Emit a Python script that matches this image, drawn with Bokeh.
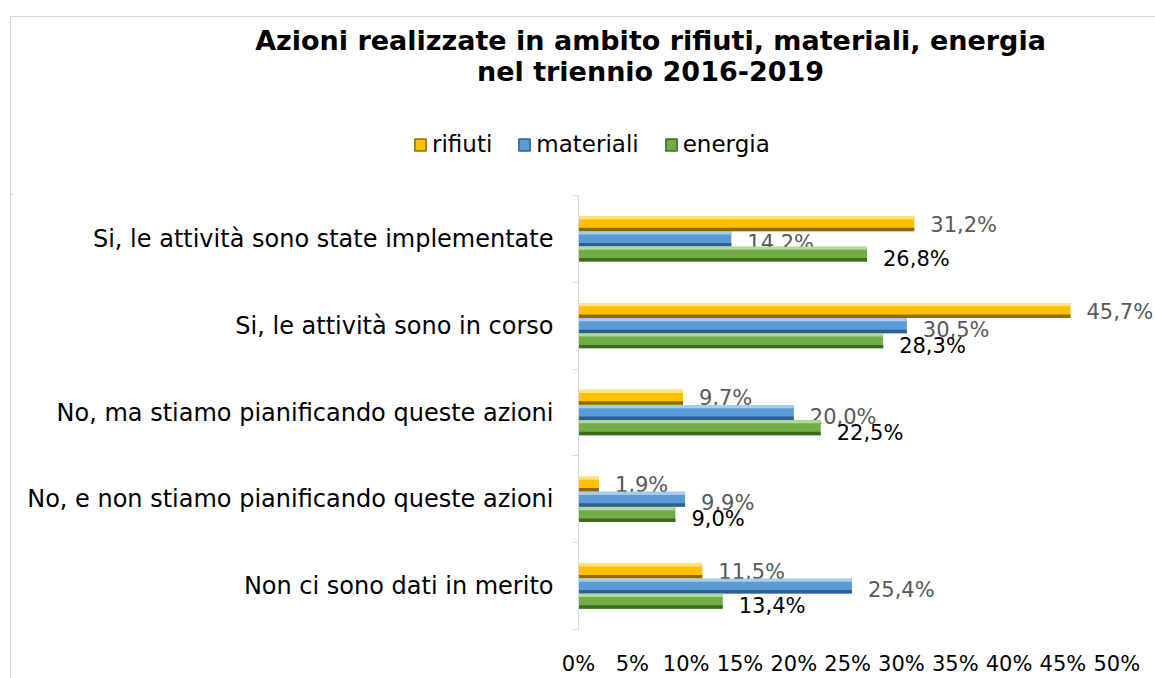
from bokeh.plotting import figure
from bokeh.layouts import column
from bokeh.models import (Range1d, LinearAxis, FixedTicker,
                          Legend, LegendItem, ColumnDataSource)
from bokeh.transform import dodge
from bokeh.core.properties import value
from bokeh.embed import file_html
from bokeh.resources import INLINE

# ---------------- data ----------------
categories = [
    "Si, le attività sono state implementate",
    "Si, le attività sono in corso",
    "No, ma stiamo pianificando queste azioni",
    "No, e non stiamo pianificando queste azioni",
    "Non ci sono dati in merito",
]
series_names = ["rifiuti", "materiali", "energia"]
rifiuti = [31.2, 45.7, 9.7, 1.9, 11.5]
materiali = [14.2, 30.5, 20.0, 9.9, 25.4]
energia = [26.8, 28.3, 22.5, 9.0, 13.4]
x_ticks = [0, 5, 10, 15, 20, 25, 30, 35, 40, 45, 50]
x_tick_labels = ["0%", "5%", "10%", "15%", "20%", "25%", "30%", "35%", "40%", "45%", "50%"]
title_lines = ["Azioni realizzate in ambito rifiuti, materiali, energia", "nel triennio 2016-2019"]

FONT = "DejaVu Sans"
N = len(categories)
W = 1144
TOP_H = 178
colors = {
    "rifiuti": ("#FFC000", "#FFE27A", "#8F6A00"),
    "materiali": ("#5B9BD5", "#A9CCEC", "#2F5F8F"),
    "energia": ("#70AD47", "#B2D99A", "#3E6B22"),
}

def fmt(v):
    return f"{v:.1f}%".replace(".", ",")

# ---------------- header (title + legend) ----------------
head = figure(width=W, height=TOP_H, x_range=Range1d(0, W), y_range=Range1d(0, TOP_H),
              output_backend="svg", toolbar_location=None, title=None,
              x_axis_location=None, y_axis_location=None,
              min_border_left=0, min_border_right=0, min_border_top=0, min_border_bottom=0)
head.frame_align = False
head.outline_line_color = None
head.xgrid.grid_line_color = None
head.ygrid.grid_line_color = None
head.text(x=[639, 639], y=[155, 124], text=title_lines, text_align="center",
          text_baseline="middle", text_font=value(FONT), text_font_size="27px",
          text_font_style="bold", text_color="black")
# legend-only renderers (their single bar lies outside the visible header range)
dummies = {}
for name in series_names:
    main, light, dark = colors[name]
    dummies[name] = head.hbar(y=[-1000], right=[1], left=0, height=1, fill_color=main,
                              line_color=dark, line_width=1.5)
legend = Legend(items=[LegendItem(label=n, renderers=[dummies[n]]) for n in series_names],
                orientation="horizontal", location=(402, 38),
                label_text_font=FONT, label_text_font_size="23px", label_text_color="black",
                glyph_width=14, glyph_height=15, label_standoff=5, spacing=25,
                padding=0, margin=0, border_line_color=None, background_fill_alpha=0)
head.add_layout(legend, "center")

# ---------------- main chart ----------------
ypos = [N - 0.5 - i for i in range(N)]   # category slot centres, top first
src = ColumnDataSource(dict(
    y=ypos,
    rifiuti=rifiuti, materiali=materiali, energia=energia,
    rifiuti_lbl=[fmt(v) for v in rifiuti],
    materiali_lbl=[fmt(v) for v in materiali],
    energia_lbl=[fmt(v) for v in energia],
))

p = figure(
    y_range=Range1d(0, N),
    x_range=Range1d(0, 53.6),
    width=W, height=661 - TOP_H,
    output_backend="svg", toolbar_location=None,
    title=None, y_axis_location=None,
    min_border_left=567, min_border_top=0, min_border_bottom=48, min_border_right=0,
)
p.frame_align = False
p.outline_line_color = None
p.xgrid.grid_line_color = None
p.ygrid.grid_line_color = None

xa = p.xaxis[0]
xa.ticker = FixedTicker(ticks=x_ticks)
xa.major_label_overrides = {t: l for t, l in zip(x_ticks, x_tick_labels)}
xa.axis_line_color = None
xa.major_tick_line_color = None
xa.minor_tick_line_color = None
xa.major_label_standoff = 16
xa.major_label_text_font = FONT
xa.major_label_text_font_size = "21px"
xa.major_label_text_color = "black"

bounds = list(range(N + 1))
bax = LinearAxis(ticker=FixedTicker(ticks=bounds),
                 axis_line_color="#d9d9d9", major_tick_line_color="#d9d9d9",
                 major_tick_out=6, major_tick_in=0, minor_tick_line_color=None,
                 major_label_text_font_size="0px", major_label_standoff=0,
                 major_label_overrides={b: "" for b in bounds})
p.add_layout(bax, "left")
cax = LinearAxis(ticker=FixedTicker(ticks=ypos),
                 major_label_overrides={y: c for y, c in zip(ypos, categories)},
                 axis_line_color=None, major_tick_line_color=None, minor_tick_line_color=None,
                 major_label_standoff=13, major_label_text_font=FONT,
                 major_label_text_font_size="24px", major_label_text_color="black")
p.add_layout(cax, "left")

H = 0.172
offsets = [0.175, 0.0, -0.175]
label_colors = {"rifiuti": "#595959", "materiali": "#595959", "energia": "black"}
label_dy = {"rifiuti": 1, "materiali": 4, "energia": 5}
for name, off in zip(series_names, offsets):
    main, light, dark = colors[name]
    p.hbar(y=dodge("y", off), right=name, left=0, height=H,
           source=src, fill_color=main, line_color=None)
    p.hbar(y=dodge("y", off + H / 2 - 0.018), right=name, left=0, height=0.036,
           source=src, fill_color=light, line_color=None)
    p.hbar(y=dodge("y", off - H / 2 + 0.02), right=name, left=0, height=0.04,
           source=src, fill_color=dark, line_color=None)
    p.text(x=name, y=dodge("y", off), text=name + "_lbl", source=src,
           x_offset=16, y_offset=label_dy[name], text_baseline="middle", text_align="left",
           text_font=value(FONT), text_font_size="21px", text_color=label_colors[name])

layout = column(head, p, spacing=0)
layout.styles = {"margin-top": "16px", "margin-left": "10px",
                 "border-left": "1px solid #d9d9d9", "border-top": "1px solid #d9d9d9"}

open("out.html", "w").write(file_html(layout, INLINE))
